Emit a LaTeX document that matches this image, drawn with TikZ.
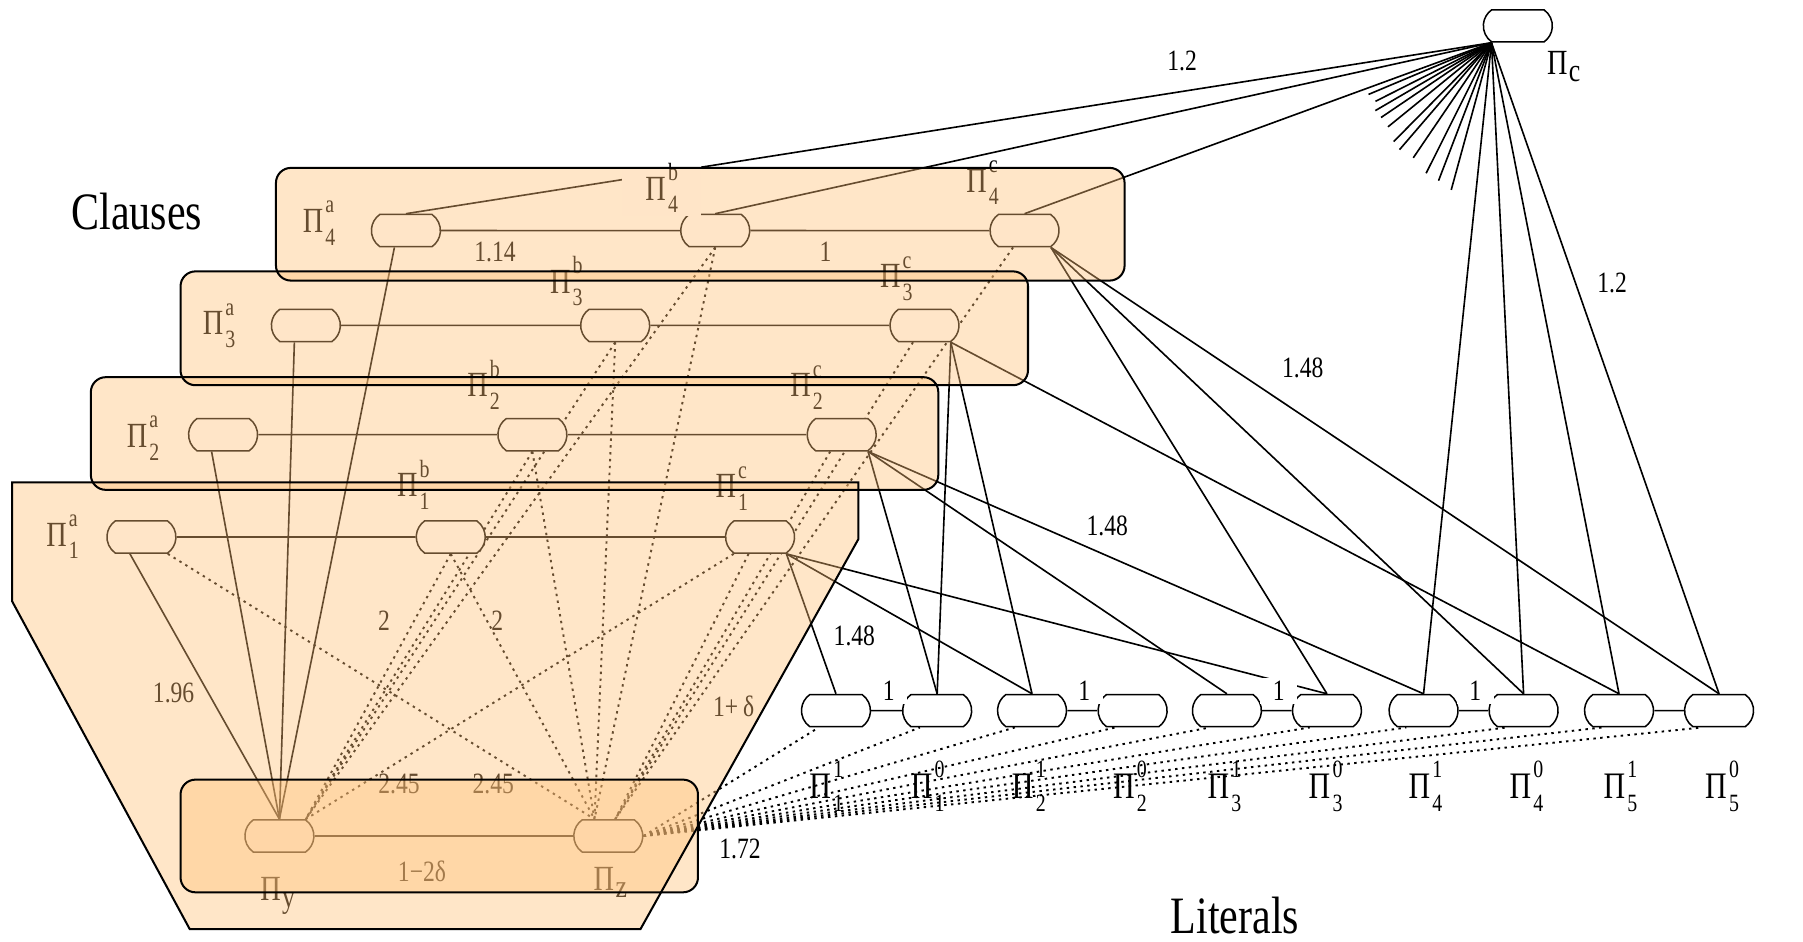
\documentclass[tikz,border=0pt]{standalone}
\usepackage{fontspec}
\setmainfont{Liberation Serif}[FakeStretch=0.8]
\usetikzlibrary{shapes.misc}

\definecolor{Tinte}{RGB}{255,192,118}
\newcommand{\numf}{\fontsize{14.6}{16}\selectfont}
\newcommand{\labf}{\fontsize{17.5}{19}\selectfont}
\newcommand{\litf}{\fontsize{18.5}{20}\selectfont}
\newcommand{\titf}{\fontsize{26}{28}\selectfont}
\newcommand{\scrf}{\fontsize{12.3}{13}\selectfont}
\newcommand{\pilab}[2]{Π\kern0.06em\rlap{\raisebox{0.55em}{\scrf #1}}\raisebox{-0.36em}{\scrf #2}}
\newcommand{\pisub}[1]{Π\kern0.04em\raisebox{-0.2em}{\fontsize{16}{17}\selectfont #1}}

\pgfdeclarelayer{edges}
\pgfdeclarelayer{tinted}
\pgfsetlayers{edges,main,tinted}

\begin{document}
\begin{tikzpicture}[x=0.02cm, y=-0.02cm,
  pill/.style={rounded rectangle, rounded rectangle arc length=110,
               draw, fill=white, line width=0.75pt,
               minimum width=1.2cm, minimum height=0.56cm, inner sep=0pt},
  lab/.style={inner sep=0pt, anchor=base west, font=\labf},
  num/.style={inner sep=0pt, font=\numf},
  mask/.style={fill=white, inner xsep=0.22cm, inner ysep=0.05cm},
  sol/.style={line width=0.8pt},
  dot/.style={line width=0.95pt, dash pattern=on 1.2pt off 2.2pt},
  wash/.style={fill=Tinte, fill opacity=0.4},
  rim/.style={draw=black, line width=1pt}
]
\useasboundingbox (0,0) rectangle (1568,819);

%% ─── Clause gadgets ─────────────────────────────────────────
\node[pill] (a4) at (353,200.5) {};
\node[pill] (b4) at (622,200.5) {};
\node[pill] (c4) at (891,200.5) {};
\node[pill] (a3) at (266,283) {};
\node[pill] (b3) at (535,283) {};
\node[pill] (c3) at (804,283) {};
\node[pill] (a2) at (194,378) {};
\node[pill] (b2) at (463,378) {};
\node[pill] (c2) at (732,378) {};
\node[pill] (a1) at (123,467) {};
\node[pill] (b1) at (392,467) {};
\node[pill] (c1) at (661,467) {};

%% ─── y, z and the centre node ──────────────────────────────
\node[pill] (y)  at (243,727) {};
\node[pill] (z)  at (529,727) {};
\node[pill] (pc) at (1320,22.5) {};

%% ─── Literal nodes ──────────────────────────────────────────
\node[pill] (l11) at (727,618) {};
\node[pill] (l10) at (815,618) {};
\node[pill] (l21) at (897.5,618) {};
\node[pill] (l20) at (985,618) {};
\node[pill] (l31) at (1067,618) {};
\node[pill] (l30) at (1154,618) {};
\node[pill] (l41) at (1238,618) {};
\node[pill] (l40) at (1325,618) {};
\node[pill] (l51) at (1408,618) {};
\node[pill] (l50) at (1495,618) {};

%% ─── Node labels ────────────────────────────────────────────
\node[lab] (t4a) at (263,202) {\pilab{a}{4}};
\node[lab] (t3a) at (176,291) {\pilab{a}{3}};
\node[lab] (t2a) at (110,389) {\pilab{a}{2}};
\node[lab] (t1a) at (40,475)  {\pilab{a}{1}};
\node[lab, mask, inner xsep=0.4cm, xshift=-0.4cm] (t4b) at (561,174) {\pilab{b}{4}};
\node[lab] (t3b) at (478,255) {\pilab{b}{3}};
\node[lab] (t2b) at (406,345) {\pilab{b}{2}};
\node[lab] (t1b) at (345,432) {\pilab{b}{1}};
\node[lab] (t4c) at (840,167) {\pilab{c}{4}};
\node[lab] (t3c) at (765,250) {\pilab{c}{3}};
\node[lab] (t2c) at (687,345) {\pilab{c}{2}};
\node[lab] (t1c) at (622,433) {\pilab{c}{1}};
\node[lab] (ty)  at (226,783) {\pisub{y}};
\node[lab] (tz)  at (516,774) {\pisub{z}};
\node[lab] (tc)  at (1345,65) {\pisub{c}};
\foreach \n/\s/\i/\px in {l11/1/1/703.6, l10/0/1/791.7, l21/1/2/879.7,
    l20/0/2/967.6, l31/1/3/1049.8, l30/0/3/1137.8, l41/1/4/1224.6,
    l40/0/4/1312.5, l51/1/5/1394.2, l50/0/5/1482.6}
  \node[lab, font=\litf] (t\n) at (\px,694) {\pilab{\s}{\i}};

\node[font=\titf] (clauses)  at (119,184) {Clauses};
\node[font=\titf] (literals) at (1074,796) {Literals};

%% ─── Weights ────────────────────────────────────────────────
\node[num] (w114) at (430.5,219) {1.14};
\node[num] (w1r)  at (718,219)   {1};
\node[num] (w12a) at (1028,53)   {1.2};
\node[num] (w12b) at (1402,246)  {1.2};
\node[num] (w48a) at (1133,320)  {1.48};
\node[num] (w48b) at (963,457)   {1.48};
\node[num] (w48c) at (743,553)   {1.48};
\node[num, mask] (wl1) at (773,601)  {1};
\node[num, mask] (wl2) at (943,601)  {1};
\node[num, mask] (wl3) at (1112,601) {1};
\node[num, mask] (wl4) at (1283,601) {1};
\node[num] (w196) at (151,603)   {1.96};
\node[num] (w2a)  at (334,540)   {2};
\node[num] (w2b)  at (432.5,540) {2};
\node[num] (w45a) at (347,682)   {2.45};
\node[num] (w45b) at (429,682)   {2.45};
\node[num] (wdel) at (638,614)   {1+\,δ};
\node[num] (w172) at (643.5,738) {1.72};
\node[num] (wyz)  at (367,758)   {1−2δ};

%% ─── Edges ──────────────────────────────────────────────────
\begin{pgfonlayer}{edges}
  \draw[sol] (a4) -- (b4) -- (c4);
  \draw[sol] (a3) -- (b3) -- (c3);
  \draw[sol] (a2) -- (b2) -- (c2);
  \draw[sol] (a1) -- (b1) -- (c1);
  \draw[sol] (y) -- (z);
  \foreach \u/\v in {l11/l10, l21/l20, l31/l30, l41/l40, l51/l50}
    \draw[sol] (\u) -- (\v);

  % clause nodes down to y and z
  \foreach \r in {1,...,4} {
    \draw[sol] ([xshift=-0.2cm]a\r.south) -- (y.north);
    \draw[dot] (b\r.south) -- (y.north east);
    \draw[dot] (b\r.south) -- ([xshift=-0.24cm]z.north);
    \draw[dot] ([xshift=-0.2cm]c\r.south) -- ([xshift=0.12cm]z.north);
  }
  \draw[dot] (a1.south east) -- ([xshift=-0.24cm]z.north);
  \draw[dot] (c1.south west) -- (y.north east);

  % z to every literal
  \foreach \l in {l11,l10,l21,l20,l31,l30,l41,l40,l51,l50}
    \draw[dot] (z.east) -- ([xshift=-0.3cm]\l.south);

  % clauses to literals
  \foreach \c/\l in {c1/l11, c1/l21, c1/l30, c2/l10, c2/l31, c2/l41,
                     c3/l10, c3/l21, c3/l51, c4/l30, c4/l40, c4/l50}
    \draw[sol] (\c.south east) -- (\l.north);

  % centre node
  \foreach \t in {a4,b4,c4,l41,l40,l51,l50}
    \draw[sol] (pc.south west) -- (\t.north);
  \foreach \a/\r in {157.2/116, 153.2/113, 149.7/117, 145.9/116, 140.9/116,
                     134.7/121, 130.7/122.6, 124.2/121, 116.6/127, 111/128.5,
                     105.3/132.7}
    \draw[sol] (pc.south west) -- ++(\a:\r);
\end{pgfonlayer}

%% ─── Group tints and outlines ───────────────────────────────
\begin{pgfonlayer}{tinted}
  \fill[wash, rounded corners=0.26cm] (240,146) rectangle (978,244);
  \fill[wash, rounded corners=0.26cm] (157,236) rectangle (894,335);
  \fill[wash, rounded corners=0.26cm] (79,328) rectangle (816,426);
  \fill[wash] (10.6,419.5) -- (746.4,419.5) -- (746.4,469) -- (557,808)
    -- (165,808) -- (10.6,523) -- cycle;
  \fill[wash, rounded corners=0.26cm] (157,678) rectangle (607,776);

  \draw[rim, rounded corners=0.26cm] (240,146) rectangle (978,244);
  \draw[rim, rounded corners=0.26cm] (157,236) rectangle (894,335);
  \draw[rim, rounded corners=0.26cm] (79,328) rectangle (816,426);
  \draw[rim] (10.6,419.5) -- (746.4,419.5) -- (746.4,469) -- (557,808)
    -- (165,808) -- (10.6,523) -- cycle;
  \draw[rim, rounded corners=0.26cm] (157,678) rectangle (607,776);
\end{pgfonlayer}

\end{tikzpicture}
\end{document}
